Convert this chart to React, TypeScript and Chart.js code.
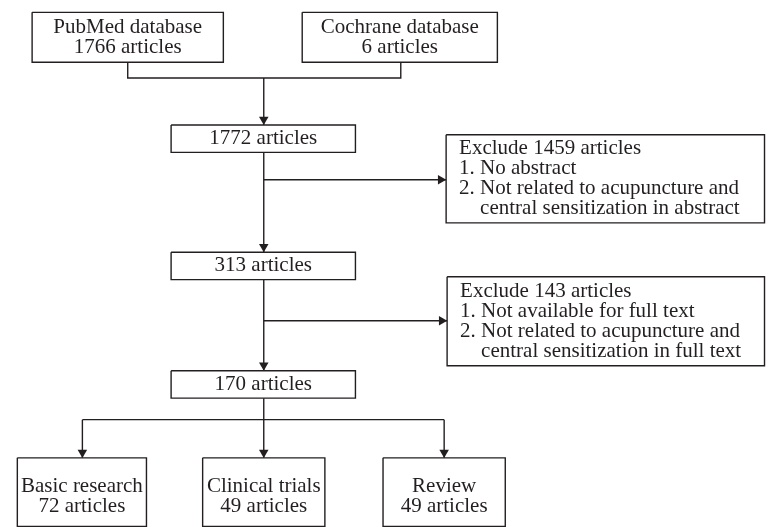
import React, { useEffect, useRef } from "react";
import { Chart, registerables } from "chart.js";

Chart.register(...registerables);

// ---------- content (data) ----------
const sourceNames = ["PubMed database", "Cochrane database"];
const sourceCounts = [1766, 6];
const stageCounts = [1772, 313, 170];
const excludeCounts = [1459, 143];
const excludeReasons1 = ["1. No abstract", "2. Not related to acupuncture and", "central sensitization in abstract"];
const excludeReasons2 = ["1. Not available for full text", "2. Not related to acupuncture and", "central sensitization in full text"];
const categoryNames = ["Basic research", "Clinical trials", "Review"];
const categoryCounts = [72, 49, 49];

const art = (n: number) => `${n} articles`;

// text of every box, in layout order
const boxText: string[][] = [
  [sourceNames[0], art(sourceCounts[0])],
  [sourceNames[1], art(sourceCounts[1])],
  [art(stageCounts[0])],
  [`Exclude ${excludeCounts[0]} articles`, ...excludeReasons1],
  [art(stageCounts[1])],
  [`Exclude ${excludeCounts[1]} articles`, ...excludeReasons2],
  [art(stageCounts[2])],
  [categoryNames[0], art(categoryCounts[0])],
  [categoryNames[1], art(categoryCounts[1])],
  [categoryNames[2], art(categoryCounts[2])],
];

// ---------- layout (chart units, 0..771 x 0..527) ----------
const boxX0 = [27, 301, 168, 447, 168, 448, 168, 12, 200, 383];
const boxX1 = [221, 499, 355, 770, 355, 770, 355, 143, 324, 507];
const boxY0 = [7, 7, 122, 132, 252, 277, 373, 462, 462, 462];
const boxY1 = [58, 58, 150, 222, 280, 368, 401, 532, 532, 532];
const textCY = [33, 33, 136, 177, 266, 322.5, 387, 501.5, 501.5, 501.5];
const leftAligned = [false, false, false, true, false, true, false, false, false, false];
const indentLast = [false, false, false, true, false, true, false, false, false, false];

// connector polylines
const connectors: { x: number; y: number }[][] = [
  [{ x: 124, y: 58 }, { x: 124, y: 74 }, { x: 401, y: 74 }, { x: 401, y: 58 }],
  [{ x: 262, y: 74 }, { x: 262, y: 122 }],
  [{ x: 262, y: 150 }, { x: 262, y: 252 }],
  [{ x: 262, y: 178 }, { x: 447, y: 178 }],
  [{ x: 262, y: 280 }, { x: 262, y: 373 }],
  [{ x: 262, y: 322 }, { x: 448, y: 322 }],
  [{ x: 262, y: 401 }, { x: 262, y: 423 }],
  [{ x: 78, y: 423 }, { x: 445, y: 423 }],
  [{ x: 78, y: 423 }, { x: 78, y: 462 }],
  [{ x: 262, y: 423 }, { x: 262, y: 462 }],
  [{ x: 445, y: 423 }, { x: 445, y: 462 }],
];

// arrow tips and directions ("down" | "right")
const arrowTips: { x: number; y: number; dir: string }[] = [
  { x: 262, y: 122, dir: "down" },
  { x: 262, y: 252, dir: "down" },
  { x: 447, y: 178, dir: "right" },
  { x: 262, y: 373, dir: "down" },
  { x: 448, y: 322, dir: "right" },
  { x: 78, y: 462, dir: "down" },
  { x: 262, y: 462, dir: "down" },
  { x: 445, y: 462, dir: "down" },
];

const INK = "#231f20";
const ARROW_R = 5.5;
const FONT = '21px "Liberation Serif", "Times New Roman", serif';
const LINE_H = 20.5;

export default function App() {
  const ref = useRef<HTMLCanvasElement | null>(null);

  useEffect(() => {
    if (!ref.current) return;

    const lineStyle = {
      showLine: true,
      borderColor: INK,
      borderWidth: 1.4,
      pointRadius: 0,
      borderJoinStyle: "miter" as const,
      fill: false,
      tension: 0,
      clip: false as any,
    };

    const boxDatasets = boxText.map((_, i) => ({
      type: "scatter" as const,
      data: [
        { x: boxX0[i], y: boxY0[i] },
        { x: boxX1[i], y: boxY0[i] },
        { x: boxX1[i], y: boxY1[i] },
        { x: boxX0[i], y: boxY1[i] },
        { x: boxX0[i], y: boxY0[i] },
      ],
      ...lineStyle,
    }));

    const connectorDatasets = connectors.map((pts) => ({
      type: "scatter" as const,
      data: pts,
      ...lineStyle,
    }));

    const arrowDataset = {
      type: "scatter" as const,
      data: arrowTips.map((a) =>
        a.dir === "down" ? { x: a.x, y: a.y - ARROW_R } : { x: a.x - ARROW_R, y: a.y }
      ),
      showLine: false,
      pointStyle: "triangle" as const,
      rotation: arrowTips.map((a) => (a.dir === "down" ? 180 : 90)),
      pointRadius: ARROW_R,
      pointBackgroundColor: INK,
      pointBorderColor: INK,
      pointBorderWidth: 0,
      clip: false as any,
    };

    const textPlugin = {
      id: "boxText",
      afterDatasetsDraw(chart: any) {
        const { ctx, scales } = chart;
        const xs = scales.x;
        const ys = scales.y;
        ctx.save();
        ctx.fillStyle = INK;
        ctx.font = FONT;
        ctx.textBaseline = "middle";
        const indent = ctx.measureText("2. ").width;
        boxText.forEach((lines, i) => {
          const n = lines.length;
          lines.forEach((line, j) => {
            const cy = textCY[i] + (j - (n - 1) / 2) * LINE_H;
            const py = ys.getPixelForValue(cy);
            if (leftAligned[i]) {
              ctx.textAlign = "left";
              let px = xs.getPixelForValue(boxX0[i]) + 13;
              if (indentLast[i] && j === n - 1) px += indent;
              ctx.fillText(line, px, py);
            } else {
              ctx.textAlign = "center";
              const px = xs.getPixelForValue((boxX0[i] + boxX1[i]) / 2);
              ctx.fillText(line, px, py);
            }
          });
        });
        ctx.restore();
      },
    };

    const bgPlugin = {
      id: "bg",
      beforeDraw(chart: any) {
        const { ctx, width, height } = chart;
        ctx.save();
        ctx.fillStyle = "#ffffff";
        ctx.fillRect(0, 0, width, height);
        ctx.restore();
      },
    };

    const chart = new Chart(ref.current, {
      type: "scatter",
      data: { datasets: [...boxDatasets, ...connectorDatasets, arrowDataset] as any },
      options: {
        animation: false,
        responsive: false,
        maintainAspectRatio: false,
        devicePixelRatio: 1,
        events: [],
        layout: { padding: 0 },
        plugins: { legend: { display: false }, tooltip: { enabled: false } },
        scales: {
          x: { type: "linear", min: 0, max: 771, display: false },
          y: { type: "linear", min: 0, max: 527, reverse: true, display: false },
        },
      },
      plugins: [bgPlugin, textPlugin],
    });

    return () => chart.destroy();
  }, []);

  return (
    <div style={{ position: "fixed", left: 0, top: 0, width: 771, height: 527, background: "#fff" }}>
      <canvas ref={ref} width={771} height={527} style={{ display: "block" }} />
    </div>
  );
}
